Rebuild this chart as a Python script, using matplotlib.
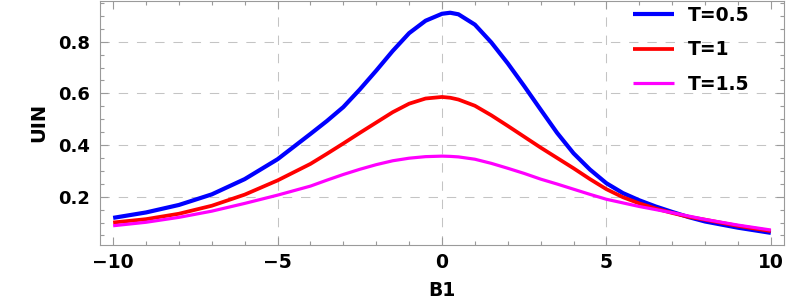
import matplotlib
matplotlib.use("Agg")
import matplotlib.pyplot as plt
from matplotlib.ticker import MultipleLocator

# ---- data ----
b1 = [-10, -9, -8, -7, -6, -5, -4, -3.5, -3, -2.5, -2, -1.5, -1, -0.5, 0, 0.25,
      0.5, 1, 1.5, 2, 2.5, 3, 3.5, 4, 4.5, 5, 5.5, 6, 6.5, 7, 7.5, 8, 9, 10]
uin_t05 = [0.118, 0.139, 0.168, 0.209, 0.268, 0.345, 0.443, 0.493, 0.547, 0.615,
           0.688, 0.764, 0.833, 0.881, 0.908, 0.912, 0.906, 0.866, 0.797, 0.716,
           0.628, 0.537, 0.447, 0.368, 0.305, 0.252, 0.214, 0.186, 0.162, 0.141,
           0.121, 0.104, 0.080, 0.060]
uin_t1 = [0.100, 0.113, 0.134, 0.165, 0.208, 0.263, 0.327, 0.366, 0.406, 0.447,
          0.487, 0.527, 0.560, 0.580, 0.586, 0.583, 0.576, 0.552, 0.515, 0.474,
          0.432, 0.390, 0.350, 0.310, 0.268, 0.229, 0.198, 0.174, 0.154, 0.137,
          0.122, 0.111, 0.087, 0.067]
uin_t15 = [0.0875, 0.101, 0.120, 0.144, 0.174, 0.206, 0.241, 0.264, 0.286, 0.306,
           0.324, 0.339, 0.349, 0.355, 0.357, 0.356, 0.354, 0.345, 0.329, 0.310,
           0.290, 0.268, 0.249, 0.229, 0.209, 0.190, 0.176, 0.162, 0.150, 0.138,
           0.125, 0.112, 0.090, 0.071]
labels = ["T=0.5", "T=1", "T=1.5"]
colors = ["#0000ff", "#ff0000", "#ff00ff"]
widths = [3.0, 2.7, 2.3]

plt.rcParams['font.family'] = ['DejaVu Sans']
plt.rcParams['font.weight'] = 'bold'

fig = plt.figure(figsize=(7.93, 3.0), dpi=100)
ax = fig.add_axes([100/793, 55/300, 684/793, 245/300 - 0.002])

for ys, lab, c, w in zip([uin_t05, uin_t1, uin_t15], labels, colors, widths):
    ax.plot(b1, ys, color=c, lw=w, label=lab, solid_capstyle='butt',
            solid_joinstyle='round')

ax.set_xlim(-10.4, 10.4)
ax.set_ylim(0.013, 0.959)

ax.xaxis.set_major_locator(MultipleLocator(5))
ax.xaxis.set_minor_locator(MultipleLocator(1))
ax.yaxis.set_major_locator(MultipleLocator(0.2))
ax.yaxis.set_minor_locator(MultipleLocator(0.05))

gray = "#9a9a9a"
for sp in ax.spines.values():
    sp.set_color(gray)
    sp.set_linewidth(0.8)
ax.tick_params(which='both', direction='in', top=True, right=True, color=gray, width=0.8)
ax.tick_params(which='major', length=5.5)
ax.tick_params(which='minor', length=3)
ax.tick_params(axis='x', which='major', pad=6, labelsize=13.5)
ax.tick_params(axis='y', which='major', pad=7, labelsize=13)
ax.set_xticks([-10, -5, 0, 5, 10])
ax.set_xticklabels(["\u221210", "\u22125", "0", "5", "10"], fontweight='bold')
ax.set_yticks([0.2, 0.4, 0.6, 0.8])
ax.set_yticklabels(["0.2", "0.4", "0.6", "0.8"], fontweight='bold')

for xv in [-5, 0, 5]:
    ax.axvline(xv, color="#c4c4c4", lw=0.75, ls=(0, (9, 8.5)), zorder=0)
for yv in [0.2, 0.4, 0.6, 0.8]:
    ax.axhline(yv, color="#c4c4c4", lw=0.75, ls=(0, (9, 8.5)), zorder=0)

ax.set_xlabel("B1", fontsize=13.5, fontweight='bold', labelpad=6)
ax.set_ylabel("UIN", fontsize=14, fontweight='bold', labelpad=7)

leg = ax.legend(loc='upper left', bbox_to_anchor=(633/793, 1 - 6/300),
                bbox_transform=fig.transFigure, frameon=False, fontsize=13.5,
                handlelength=2.2, handletextpad=0.75, labelspacing=0.82,
                borderpad=0, borderaxespad=0)
for t in leg.get_texts():
    t.set_fontweight('bold')

fig.savefig("out.png", dpi=100)
